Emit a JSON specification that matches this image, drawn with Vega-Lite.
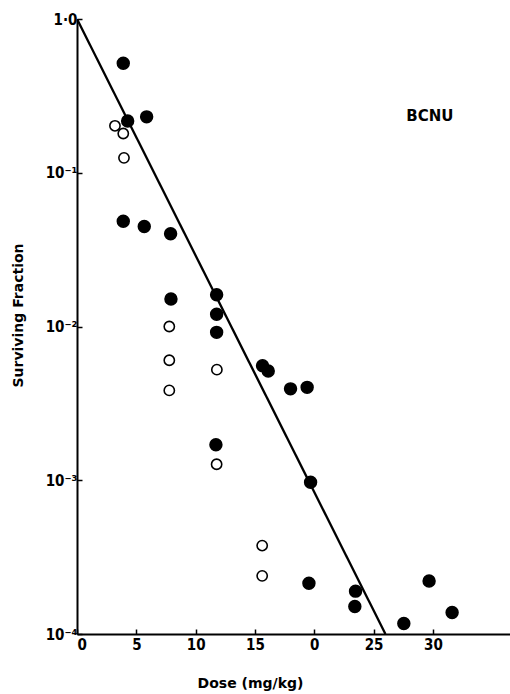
{
  "$schema": "https://vega.github.io/schema/vega-lite/v6.json",
  "width": 433,
  "height": 615,
  "autosize": {"type": "none"},
  "padding": {"left": 77, "top": 19, "right": 0, "bottom": 60},
  "background": "white",
  "view": {"stroke": null},
  "config": {
    "font": "DejaVu Sans",
    "axis": {
      "grid": false,
      "domainColor": "black",
      "domainWidth": 2,
      "tickColor": "black",
      "tickWidth": 1.5,
      "tickSize": -5,
      "labelColor": "black",
      "labelFont": "DejaVu Sans Condensed",
      "labelFontWeight": "bold",
      "labelFontSize": 15,
      "titleColor": "black",
      "titleFont": "DejaVu Sans",
      "titleFontWeight": "bold",
      "titleFontSize": 14
    }
  },
  "datasets": {
    "points": [
      {"dose": 3.9, "sf": 0.515, "group": "filled"},
      {"dose": 4.27, "sf": 0.217, "group": "filled"},
      {"dose": 5.87, "sf": 0.231, "group": "filled"},
      {"dose": 3.9, "sf": 0.0484, "group": "filled"},
      {"dose": 5.67, "sf": 0.0447, "group": "filled"},
      {"dose": 7.89, "sf": 0.0401, "group": "filled"},
      {"dose": 7.92, "sf": 0.0151, "group": "filled"},
      {"dose": 11.77, "sf": 0.0161, "group": "filled"},
      {"dose": 11.77, "sf": 0.012, "group": "filled"},
      {"dose": 11.77, "sf": 0.00916, "group": "filled"},
      {"dose": 11.71, "sf": 0.0017, "group": "filled"},
      {"dose": 15.64, "sf": 0.00556, "group": "filled"},
      {"dose": 16.12, "sf": 0.00514, "group": "filled"},
      {"dose": 18.0, "sf": 0.00393, "group": "filled"},
      {"dose": 19.4, "sf": 0.00402, "group": "filled"},
      {"dose": 19.69, "sf": 0.00097, "group": "filled"},
      {"dose": 19.55, "sf": 0.000214, "group": "filled"},
      {"dose": 23.48, "sf": 0.00019, "group": "filled"},
      {"dose": 23.42, "sf": 0.000151, "group": "filled"},
      {"dose": 27.55, "sf": 0.000117, "group": "filled"},
      {"dose": 29.68, "sf": 0.000221, "group": "filled"},
      {"dose": 31.62, "sf": 0.000138, "group": "filled"},
      {"dose": 3.2, "sf": 0.202, "group": "open"},
      {"dose": 3.9, "sf": 0.18, "group": "open"},
      {"dose": 3.96, "sf": 0.125, "group": "open"},
      {"dose": 7.78, "sf": 0.01, "group": "open"},
      {"dose": 7.78, "sf": 0.00603, "group": "open"},
      {"dose": 7.78, "sf": 0.00384, "group": "open"},
      {"dose": 11.79, "sf": 0.00524, "group": "open"},
      {"dose": 11.77, "sf": 0.00127, "group": "open"},
      {"dose": 15.61, "sf": 0.000376, "group": "open"},
      {"dose": 15.61, "sf": 0.000239, "group": "open"}
    ],
    "fit": [
      {"dose": 0, "sf": 1},
      {"dose": 26, "sf": 0.0001}
    ],
    "labels": [
      {"dose": 29.75, "sf": 0.234, "text": "BCNU"}
    ]
  },
  "layer": [
    {
      "data": {"name": "fit"},
      "mark": {"type": "line", "color": "black", "strokeWidth": 2.3, "clip": true},
      "encoding": {
        "x": {
          "field": "dose", "type": "quantitative",
          "scale": {"domain": [0, 36.5], "nice": false, "zero": false},
          "axis": {
            "title": "Dose (mg/kg)",
            "values": [0, 5, 10, 15, 20, 25, 30],
            "labelExpr": "datum.value == 20 ? '0' : datum.label",
            "labelPadding": 8,
            "titlePadding": 24,
            "titleX": 173
          }
        },
        "y": {
          "field": "sf", "type": "quantitative",
          "scale": {"type": "log", "domain": [0.0001, 1], "nice": false},
          "axis": {
            "title": "Surviving Fraction",
            "values": [0.0001, 0.001, 0.01, 0.1, 1],
            "labelExpr": "datum.value >= 0.5 ? '1·0' : datum.value >= 0.05 ? '10⁻¹' : datum.value >= 0.005 ? '10⁻²' : datum.value >= 0.0005 ? '10⁻³' : '10⁻⁴'",
            "labelPadding": 5,
            "titlePadding": 20,
            "titleY": 296
          }
        }
      }
    },
    {
      "data": {"name": "points"},
      "mark": {"type": "point", "shape": "circle", "filled": true, "stroke": "black", "strokeWidth": 1.6, "opacity": 1},
      "encoding": {
        "x": {"field": "dose", "type": "quantitative"},
        "y": {"field": "sf", "type": "quantitative"},
        "fill": {
          "field": "group", "type": "nominal",
          "scale": {"domain": ["filled", "open"], "range": ["black", "white"]},
          "legend": null
        },
        "size": {
          "field": "group", "type": "nominal",
          "scale": {"domain": ["filled", "open"], "range": [140, 105]},
          "legend": null
        }
      }
    },
    {
      "data": {"name": "labels"},
      "mark": {"type": "text", "font": "DejaVu Sans", "fontWeight": "bold", "fontSize": 15, "color": "black"},
      "encoding": {
        "x": {"field": "dose", "type": "quantitative"},
        "y": {"field": "sf", "type": "quantitative"},
        "text": {"field": "text", "type": "nominal"}
      }
    }
  ]
}
